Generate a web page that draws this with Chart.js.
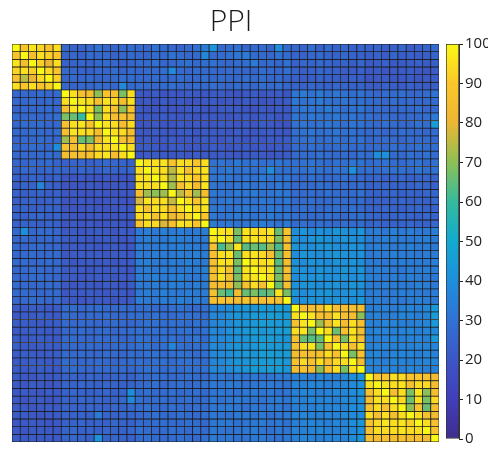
<!DOCTYPE html>
<html>
<head>
<meta charset="utf-8">
<script src="https://cdn.jsdelivr.net/npm/chart.js@4.4.1/dist/chart.umd.min.js"></script>
<style>
  body { margin: 0; background: #fff; }
  #wrap { position: relative; width: 488px; height: 450px; }
  #heat { position: absolute; left: 0; top: 0; }
  #cbar { position: absolute; left: 440px; top: 0; }
</style>
</head>
<body>
<div id="wrap">
  <canvas id="heat" width="462" height="450"></canvas>
  <canvas id="cbar" width="48" height="450"></canvas>
</div>
<script>
// 52 x 52 similarity matrix, row by row (blocks of 6, 9, 9, 10, 9, 9)
const ppi = [
  [100,88,96,93,86,95, 26,24,25,27,30,26,25,27,28, 27,26,30,28,26,25,27,29,33, 42,27,28,30,26,27,28,25,40,27, 26,25,28,24,27,25,26,24,25, 24,25,23,24,26,22,24,25,27],
  [88,100,85,95,92,90, 25,26,24,28,26,27,25,26,27, 26,25,28,27,30,28,26,27,38, 27,28,29,31,33,28,27,26,30,28, 25,24,26,27,25,24,26,25,24, 23,24,22,25,23,24,22,23,25],
  [96,85,100,92,80,95, 24,25,26,25,27,28,26,24,26, 28,27,29,26,27,28,30,27,29, 30,27,26,28,29,33,27,28,26,30, 24,26,25,27,26,24,25,23,26, 22,23,24,21,22,23,24,22,23],
  [93,95,92,100,94,88, 27,26,25,24,27,26,28,25,27, 26,28,27,29,38,27,26,28,27, 27,26,28,27,26,25,28,27,26,29, 25,23,24,26,25,24,23,22,24, 21,22,20,21,22,23,21,20,22],
  [86,75,80,94,100,92, 25,27,26,28,25,26,27,29,28, 27,26,28,27,26,28,27,26,29, 26,28,27,26,29,27,28,26,27,25, 24,22,23,25,24,23,22,24,23, 20,21,22,20,21,22,20,21,22],
  [95,90,95,88,92,100, 26,25,27,26,28,27,26,38,27, 28,27,26,28,29,27,26,28,27, 29,27,26,28,27,26,28,27,29,26, 25,24,26,25,24,26,25,24,25, 23,22,24,23,22,24,23,22,23],

  [26,27,25,28,26,27, 100,95,86,85,70,88,86,68,94, 21,20,22,19,21,20,22,21,20, 21,22,20,19,21,22,20,21,22,20, 31,33,30,32,29,31,30,28,30, 27,26,28,27,29,26,27,28,30],
  [27,26,28,25,27,26, 95,100,96,95,86,96,94,85,95, 20,21,19,22,20,21,19,20,21, 22,20,21,20,22,21,19,20,21,22, 32,30,31,33,30,29,31,30,29, 28,27,26,29,27,28,26,27,28],
  [25,27,26,27,28,26, 86,96,100,95,68,95,86,70,88, 21,19,20,21,20,19,21,22,20, 20,21,22,21,20,19,21,20,22,21, 30,32,31,30,33,31,29,30,31, 27,28,27,26,28,27,29,26,27],
  [28,26,27,26,27,29, 68,66,60,100,70,95,85,86,84, 20,21,20,22,21,20,21,19,21, 21,20,19,21,22,20,21,22,20,21, 31,30,32,31,30,32,30,31,29, 29,27,28,27,26,28,27,29,33],
  [26,28,27,28,26,27, 86,95,96,88,100,96,95,85,94, 19,20,21,20,19,21,20,21,20, 20,22,21,20,21,20,22,21,20,19, 30,31,29,30,31,30,29,31,30, 28,27,29,28,27,26,30,28,46],
  [27,26,28,27,26,28, 85,96,95,94,85,100,95,94,85, 21,20,22,21,20,21,22,20,21, 22,21,20,22,21,20,21,22,21,20, 29,30,31,29,30,31,29,30,28, 27,28,26,27,29,28,27,26,28],
  [26,27,26,28,27,26, 72,86,66,68,82,96,100,86,84, 20,21,20,21,22,20,21,20,22, 21,20,22,21,20,21,20,22,21,22, 28,29,30,28,29,30,28,29,30, 26,27,28,27,26,28,27,28,27],
  [27,26,28,27,26,40, 88,86,94,85,95,95,96,100,95, 21,22,21,20,21,22,20,21,20, 22,21,20,21,22,20,21,20,22,21, 28,27,29,28,27,28,29,27,28, 27,28,27,29,28,27,30,28,29],
  [26,27,26,27,28,27, 85,86,85,86,94,96,85,95,100, 20,21,22,21,20,21,20,22,21, 21,22,21,20,21,22,21,20,21,22, 27,28,27,29,28,27,28,27,29, 28,40,41,28,27,29,28,30,28],

  [26,25,27,26,28,25, 24,25,26,24,25,27,26,25,24, 100,96,95,96,88,95,94,90,95, 30,31,29,32,30,31,29,30,31,30, 29,30,31,29,28,30,29,31,30, 28,29,30,28,27,29,30,28,29],
  [25,27,26,25,27,26, 25,24,26,25,24,26,25,24,26, 95,100,96,95,75,96,86,94,96, 31,30,32,30,31,29,31,40,30,29, 30,29,31,30,29,31,30,41,29, 29,28,30,29,30,28,31,29,30],
  [24,23,25,24,23,25, 20,19,21,20,19,21,20,19,20, 95,96,100,95,74,96,95,90,95, 30,32,31,29,31,30,32,31,30,31, 28,27,29,28,27,28,29,28,27, 25,26,24,25,26,24,25,26,25],
  [23,25,24,36,24,23, 19,20,19,21,20,19,20,21,19, 96,95,95,100,72,86,94,85,96, 31,30,29,31,32,30,31,30,32,30, 27,28,27,29,28,27,28,27,28, 24,25,26,24,25,24,26,25,24],
  [24,23,24,25,23,24, 20,21,20,19,21,20,19,20,21, 85,72,70,72,100,75,86,72,85, 32,31,30,32,31,33,30,31,32,31, 28,27,28,27,29,28,27,28,29, 25,24,25,26,24,25,24,26,25],
  [23,24,25,23,24,25, 19,20,21,20,19,20,21,19,20, 78,96,94,95,76,100,95,88,96, 30,31,32,30,31,30,32,31,30,32, 27,28,29,28,27,29,28,27,28, 24,25,24,25,26,24,25,24,26],
  [24,25,23,24,25,24, 20,19,20,21,20,19,20,21,20, 95,88,96,94,86,95,100,94,96, 31,32,30,31,33,31,30,32,31,30, 28,29,28,27,28,29,28,29,27, 25,24,26,25,24,25,26,24,25],
  [25,24,25,26,24,25, 21,20,19,20,21,20,19,20,21, 94,96,86,95,82,88,94,100,90, 32,30,31,32,31,30,31,33,30,31, 29,28,27,28,29,28,27,28,29, 26,25,24,25,26,25,24,26,25],
  [24,25,24,23,25,24, 20,21,20,21,19,20,21,20,19, 88,95,94,78,86,96,95,90,100, 33,31,32,30,31,32,34,31,30,32, 28,29,28,29,28,27,29,28,28, 25,26,25,24,25,26,25,24,26],

  [27,40,26,27,28,26, 21,22,20,21,22,21,20,22,21, 33,34,32,35,33,34,32,33,34, 100,96,95,68,96,95,94,96,66,88, 40,42,39,41,40,43,41,40,42, 33,34,32,35,33,34,32,33,34],
  [26,27,25,26,27,26, 22,21,22,20,21,22,21,20,22, 32,34,33,32,35,34,33,32,33, 96,100,95,66,95,96,95,94,68,86, 41,40,42,43,41,40,42,41,40, 34,33,35,34,33,32,34,35,33],
  [27,26,27,28,26,27, 21,22,21,22,20,21,22,21,20, 34,33,32,34,33,35,34,33,32, 86,62,70,96,64,66,64,72,62,86, 42,41,40,42,43,41,40,42,41, 33,35,34,33,34,35,33,34,32],
  [26,27,28,26,27,28, 20,21,22,21,22,20,21,22,21, 33,32,34,33,32,34,33,35,33, 86,95,96,66,95,96,94,86,66,86, 40,42,41,40,41,43,42,40,41, 32,34,33,35,34,33,32,34,33],
  [27,28,26,27,28,27, 22,20,21,22,21,22,20,21,22, 34,35,33,32,34,33,35,34,33, 86,96,95,68,100,96,95,96,64,85, 41,40,43,41,40,42,41,43,40, 34,33,32,34,35,33,34,33,35],
  [26,27,28,27,26,27, 21,22,21,20,22,21,22,21,20, 33,34,32,34,33,32,34,33,35, 85,95,86,66,96,100,95,96,66,86, 42,41,40,42,41,40,43,41,42, 33,35,34,33,32,34,33,35,34],
  [27,26,27,28,27,26, 22,21,20,21,22,21,20,22,21, 34,33,35,33,34,35,33,32,34, 86,96,86,68,95,96,100,95,68,85, 40,42,41,43,40,41,42,40,41, 35,34,33,34,33,35,34,33,32],
  [28,27,26,27,28,27, 21,20,22,21,20,22,21,20,22, 33,32,34,33,35,34,32,34,33, 85,86,85,70,86,95,86,100,66,86, 41,43,42,40,41,42,40,43,41, 34,33,35,34,33,32,35,34,33],
  [27,28,27,26,27,28, 20,22,21,22,21,20,22,21,20, 32,34,33,35,33,32,34,33,34, 86,66,62,84,66,68,64,66,96,68, 42,40,41,42,43,40,41,42,40, 33,34,32,33,35,34,33,32,34],
  [26,27,28,27,26,27, 22,21,20,21,22,21,20,21,22, 34,33,32,34,33,35,33,34,32, 86,88,86,85,88,86,85,88,86,100, 40,41,43,41,40,42,41,40,43, 34,35,33,34,32,33,35,34,33],

  [22,21,23,22,21,22, 27,28,26,27,28,27,26,28,27, 28,29,27,28,29,30,28,27,29, 36,38,40,42,44,43,45,44,46,44, 100,86,85,86,95,86,85,86,85, 34,35,36,34,35,36,35,37,44],
  [21,22,21,23,22,21, 28,27,26,28,27,28,27,26,28, 29,28,30,29,28,29,30,29,28, 38,37,41,43,42,45,44,46,45,44, 95,100,96,86,85,96,86,85,70, 35,36,34,35,37,36,35,36,45],
  [22,23,22,21,22,23, 27,26,28,27,26,27,28,27,26, 28,30,29,28,30,29,28,30,29, 37,39,40,42,43,44,46,45,44,45, 86,96,100,72,86,96,85,95,86, 36,35,37,36,35,34,36,37,44],
  [21,22,23,22,21,22, 26,27,28,26,27,28,26,27,28, 29,28,29,30,28,29,30,28,30, 38,36,41,42,44,45,43,44,46,45, 95,96,68,100,95,66,86,96,85, 35,37,36,35,36,37,35,36,38],
  [22,21,22,23,22,21, 27,28,27,26,28,27,28,26,27, 30,29,28,29,30,28,29,31,28, 37,38,40,41,43,44,45,46,44,43, 86,66,64,66,100,86,68,95,86, 36,35,36,37,35,36,37,35,45],
  [23,22,21,22,23,22, 26,27,26,28,27,26,27,28,27, 29,30,28,29,36,29,28,29,30, 39,37,41,43,42,44,46,44,45,44, 86,95,96,68,86,100,95,86,95, 35,36,37,35,36,35,37,36,37],
  [22,23,22,21,22,23, 27,26,28,27,26,28,27,26,28, 28,29,30,28,29,30,29,28,29, 38,39,40,42,44,43,45,46,44,45, 85,86,85,86,95,86,100,68,86, 36,37,35,36,37,36,35,37,36],
  [21,22,23,22,21,22, 28,27,26,27,28,27,26,27,28, 29,28,29,30,28,29,30,29,28, 37,38,41,43,42,44,45,44,46,44, 86,94,86,95,86,94,95,100,85, 37,36,35,37,36,35,36,37,38],
  [22,21,22,23,22,21, 27,28,27,26,27,28,27,28,26, 28,30,29,28,29,28,30,29,30, 38,37,40,41,43,45,44,46,45,43, 85,86,84,70,86,95,68,95,100, 36,35,37,36,35,37,36,35,36],

  [22,21,20,22,21,22, 24,25,24,26,25,24,25,26,24, 28,27,29,28,27,28,29,28,27, 31,32,30,33,31,32,30,31,33,32, 35,36,34,37,36,35,38,40,42, 100,90,88,95,94,88,90,86,84],
  [21,20,22,21,20,21, 25,24,26,25,24,26,25,24,25, 27,28,29,27,28,29,27,28,29, 32,31,33,32,30,31,32,33,31,30, 36,35,37,36,35,36,37,39,41, 95,100,96,95,96,86,95,94,85],
  [20,22,21,20,22,21, 24,26,25,24,25,26,24,25,40, 28,29,27,28,29,27,28,29,28, 31,32,31,30,32,33,31,32,30,31, 35,37,36,35,36,38,37,40,42, 86,95,100,86,95,68,96,70,85],
  [21,20,21,22,20,21, 25,24,26,25,26,24,25,26,38, 29,27,28,29,27,28,29,27,28, 32,30,31,33,32,31,30,32,33,31, 36,35,37,36,37,35,38,39,41, 85,96,95,100,94,66,95,68,94],
  [22,21,20,21,22,21, 24,25,24,26,25,24,26,25,26, 28,29,28,27,29,28,27,29,28, 31,32,33,31,30,32,31,33,32,30, 35,36,35,37,36,37,36,40,41, 86,95,86,95,100,70,86,66,85],
  [21,22,21,20,21,22, 25,24,25,24,33,25,24,26,25, 27,28,29,28,27,29,28,27,29, 32,31,30,32,33,31,32,30,31,33, 36,37,36,35,37,36,38,39,40, 95,86,95,86,95,100,95,86,84],
  [20,21,22,21,20,21, 24,25,26,24,25,24,26,25,24, 28,27,28,29,28,27,29,28,27, 31,33,32,30,31,32,33,31,32,30, 35,36,37,36,35,37,36,40,42, 88,94,96,95,96,92,100,95,86],
  [21,20,21,22,21,20, 25,26,24,25,24,26,25,24,26, 29,28,27,28,29,28,27,29,28, 32,31,30,31,32,33,31,30,32,31, 36,35,36,37,36,35,37,39,41, 86,95,94,95,96,94,95,100,88],
  [22,21,22,21,22,21, 25,26,25,24,42,25,26,25,24, 28,29,28,27,28,29,28,27,29, 33,31,32,30,31,32,33,31,30,32, 35,37,36,35,36,37,36,40,42, 86,85,86,85,86,85,86,84,100]
];

const colLabels = ppi[0].map((_, j) => 'P' + (j + 1));
const cbarTicks = [0, 10, 20, 30, 40, 50, 60, 70, 80, 90, 100];
const cbarRange = [0, 100];

// parula-like colour map, sampled from the colour bar
const parulaStops = [
  [62, 45, 140], [66, 62, 185], [60, 86, 198], [48, 114, 212], [30, 142, 220],
  [18, 170, 208], [52, 186, 158], [140, 192, 86], [236, 182, 52], [252, 198, 42], [249, 248, 20]
];

function parula(v) {
  const t = Math.max(0, Math.min(1, v / 100)) * (parulaStops.length - 1);
  const i = Math.min(Math.floor(t), parulaStops.length - 2);
  const f = t - i;
  const a = parulaStops[i], b = parulaStops[i + 1];
  const c = a.map((x, k) => Math.round(x + (b[k] - x) * f));
  return `rgb(${c[0]},${c[1]},${c[2]})`;
}

const heatDatasets = ppi.map((row, i) => ({
  label: 'row ' + (i + 1),
  data: row.map(() => [i, i + 1]),
  backgroundColor: row.map(parula),
  borderColor: '#1c1c1c',
  borderWidth: 0.75,
  borderSkipped: false,
  grouped: false,
  barPercentage: 1,
  categoryPercentage: 1
}));

// invisible side axes only reserve room, so the title centres on the whole canvas
const spacer = (w, pos) => ({
  type: 'linear', position: pos, display: true,
  ticks: { display: false }, grid: { display: false }, border: { display: false },
  afterFit: (s) => { s.width = w; }
});

new Chart(document.getElementById('heat'), {
  type: 'bar',
  data: { labels: colLabels, datasets: heatDatasets },
  options: {
    responsive: false,
    animation: false,
    layout: { padding: { left: 0, right: 0, top: 0, bottom: 8 } },
    scales: {
      x: { display: false },
      y: { display: false, min: 0, max: ppi.length, reverse: true },
      padL: spacer(12, 'left'),
      padR: spacer(23, 'right')
    },
    plugins: {
      legend: { display: false },
      tooltip: { enabled: false },
      title: {
        display: true,
        text: 'PPI',
        color: '#1a1a1a',
        font: { family: 'Open Sans', size: 30, weight: '300' },
        padding: { top: 4, bottom: 4 }
      }
    }
  }
});

new Chart(document.getElementById('cbar'), {
  type: 'bar',
  data: {
    labels: ['scale'],
    datasets: [{
      data: [cbarRange],
      backgroundColor: (ctx) => {
        const area = ctx.chart.chartArea;
        if (!area) return null;
        const g = ctx.chart.ctx.createLinearGradient(0, area.bottom, 0, area.top);
        parulaStops.forEach((c, k) => g.addColorStop(k / (parulaStops.length - 1), `rgb(${c.join(',')})`));
        return g;
      },
      borderColor: '#333',
      borderWidth: 1,
      borderSkipped: false,
      barPercentage: 1,
      categoryPercentage: 1
    }]
  },
  options: {
    responsive: false,
    animation: false,
    layout: { padding: { left: 6, right: 0, top: 44, bottom: 8 } },
    scales: {
      x: { display: false },
      y: {
        position: 'right',
        min: cbarTicks[0],
        max: cbarTicks[cbarTicks.length - 1],
        afterBuildTicks: (s) => { s.ticks = cbarTicks.map(v => ({ value: v })); },
        afterFit: (s) => { s.width = 29; },
        ticks: { color: '#222', font: { family: 'Open Sans', size: 15 }, padding: 2 },
        grid: { drawOnChartArea: false, tickLength: 4, tickColor: '#222' },
        border: { color: '#333' }
      }
    },
    plugins: { legend: { display: false }, tooltip: { enabled: false } }
  }
});
</script>
</body>
</html>
